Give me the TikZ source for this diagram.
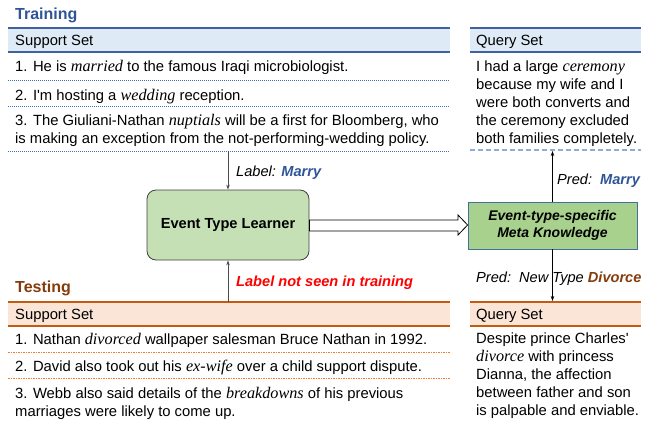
\documentclass[tikz,border=0pt]{standalone}
\usepackage{fontspec}
\setmainfont{Liberation Sans}[Ligatures=TeXOff]
\newfontfamily\tmsfont{Liberation Serif}
\usetikzlibrary{arrows.meta,calc}
\newcommand\evw[1]{{\tmsfont\itshape\fontsize{16.2}{18}\selectfont #1}}
\definecolor{trblue}{HTML}{2F5597}
\definecolor{bandblue}{HTML}{DEEBF7}
\definecolor{lineblue}{HTML}{3F62A3}
\definecolor{dotblue}{HTML}{4472C4}
\definecolor{dashblue}{HTML}{8FAADC}
\definecolor{tebrown}{HTML}{843C0C}
\definecolor{bandorange}{HTML}{FBE5D6}
\definecolor{lineorange}{HTML}{C55A11}
\definecolor{dotorange}{HTML}{ED7D31}
\definecolor{learnfill}{HTML}{C5E0B4}
\definecolor{metafill}{HTML}{A9D18E}
\definecolor{metaline}{HTML}{41719C}
\begin{document}
\begin{tikzpicture}[x=1pt,y=-1pt,
  body/.style={inner sep=0pt,font=\fontsize{14.8}{18}\selectfont},
  ttl/.style={inner sep=0pt,font=\fontsize{16}{19}\selectfont\bfseries},
  bluedot/.style={dotblue,line width=0.9pt,dash pattern=on 1pt off 1pt},
  orangedot/.style={dotorange,line width=0.9pt,dash pattern=on 1.5pt off 1pt},
  qdash/.style={dashblue,line width=1.3pt,dash pattern=on 5pt off 3pt},
  arr/.style={-{Stealth[length=5pt,width=3.5pt]},line width=0.7pt}]
\useasboundingbox (0,0) rectangle (647,423);
% ---------- Training ----------
\node[ttl,text=trblue,anchor=base west] (train) at (15,19) {Training};
\fill[bandblue] (8,28) rectangle (450,52);
\draw[lineblue,line width=1.2pt] (8,28) -- (450,28) (8,52) -- (450,52);
\node[body,anchor=base west] (ss1) at (15,45.5) {Support Set};
\node[body,anchor=base west] (t1) at (15,71.5) {1. He is \evw{married} to the famous Iraqi microbiologist.};
\draw[bluedot] (8,80) -- (450,80);
\node[body,anchor=base west] (t2) at (15,100) {2. I'm hosting a \evw{wedding} reception.};
\draw[bluedot] (8,106) -- (450,106);
\node[body,anchor=north west,align=left] (t3) at (15,114.5) {3. The Giuliani-Nathan \evw{nuptials} will be a first for Bloomberg, who\\is making an exception from the not-performing-wedding policy.};
\draw[bluedot] (8,151) -- (450,151);
\coordinate (ttop) at (228,151);
% query set training
\fill[bandblue] (470,28) rectangle (641,52);
\draw[lineblue,line width=1.2pt] (470,28) -- (641,28) (470,52) -- (641,52);
\node[body,anchor=base west] (qs1) at (476,45.5) {Query Set};
\node[body,anchor=north west,align=left] (q1) at (476,60.8) {I had a large \evw{ceremony}\\because my wife and I\\were both converts and\\the ceremony excluded\\both families completely.};
\draw[qdash] (470,150) -- (641,150);
\coordinate (qtop) at (552.5,151);
% ---------- middle ----------
\node[draw=black!75,line width=0.8pt,fill=learnfill,rounded corners=9pt,minimum width=162pt,minimum height=70pt,font=\fontsize{14.6}{18}\selectfont\bfseries] (learn) at (228,225) {Event Type Learner};
\node[draw=metaline,line width=0.8pt,fill=metafill,minimum width=169pt,minimum height=47pt,align=center,font=\fontsize{14}{17.4}\selectfont\bfseries\itshape] (meta) at (552.5,225.5) {Event-type-specific\\Meta Knowledge};
\draw[black,line width=0.8pt,fill=white]
  ($(learn.east)+(0,-5)$) -- (458,220) -- (458,215) -- ($(meta.west)+(0,-0.5)$) -- (458,235) -- (458,231) -- ($(learn.east)+(0,6)$) -- cycle;
\draw[arr,black!70] (ttop) -- (learn.north);
\node[body,anchor=base west,font=\fontsize{14.6}{18}\selectfont] (lab1) at (236,176) {\itshape Label: \textcolor{trblue}{\bfseries Marry}};
\draw[arr] (meta.north) -- (qtop);
\node[body,anchor=base west,font=\fontsize{14.6}{18}\selectfont] (pred1) at (557,184.3) {\itshape Pred:\ \ \textcolor{trblue}{\bfseries Marry}};
% ---------- Testing ----------
\node[ttl,text=tebrown,anchor=base west] (test) at (15,292.7) {Testing};
\fill[bandorange] (8,302) rectangle (450,326);
\draw[lineorange,line width=1.2pt] (8,302) -- (450,302) (8,326) -- (450,326);
\node[body,anchor=base west] (ss2) at (15,319.3) {Support Set};
\node[body,anchor=base west] (d1) at (15,344) {1. Nathan \evw{divorced} wallpaper salesman Bruce Nathan in 1992.};
\draw[orangedot] (8,352) -- (450,352);
\node[body,anchor=base west] (d2) at (15,371.3) {2. David also took out his \evw{ex-wife} over a child support dispute.};
\draw[orangedot] (8,378.3) -- (450,378.3);
\node[body,anchor=north west,align=left] (d3) at (15,386.6) {3. Webb also said details of the \evw{breakdowns} of his previous\\marriages were likely to come up.};
\coordinate (tbot) at (228,302);
\draw[arr,black!70] (tbot) -- (learn.south);
\node[body,anchor=base west,text=red,font=\fontsize{14.6}{18}\selectfont\bfseries\itshape] (lab2) at (236,286.7) {Label not seen in training};
% query set testing
\fill[bandorange] (470,302) rectangle (641,326);
\draw[lineorange,line width=1.2pt] (470,302) -- (641,302) (470,326) -- (641,326);
\node[body,anchor=base west] (qs2) at (476,319.3) {Query Set};
\node[body,anchor=north west,align=left] (q2) at (476,332.5) {Despite prince Charles'\\\evw{divorce} with princess\\Dianna, the affection\\between father and son\\is palpable and enviable.};
\coordinate (qbot) at (552.5,301);
\node[body,anchor=base west,font=\fontsize{14.6}{18}\selectfont] (pred2) at (476,282.7) {\itshape Pred:\ \ New Type \textcolor{tebrown}{\bfseries Divorce}};
\draw[arr] (meta.south) -- (qbot);
\end{tikzpicture}
\end{document}
